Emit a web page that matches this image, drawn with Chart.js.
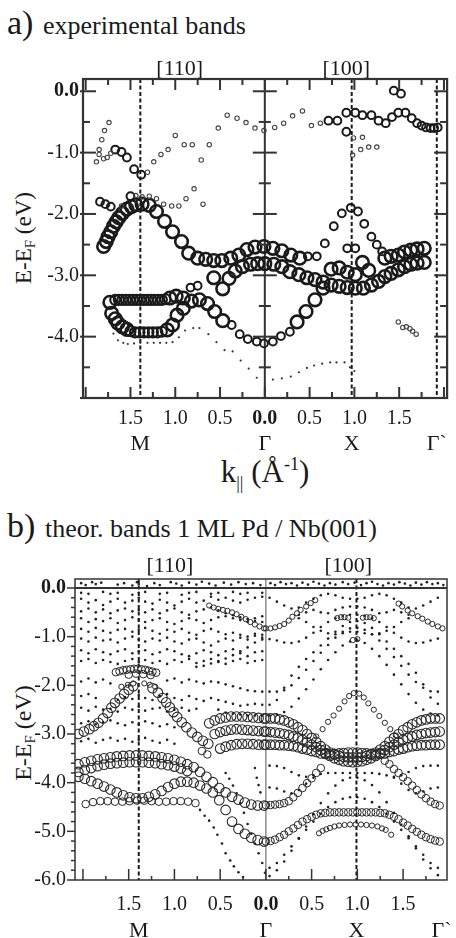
<!DOCTYPE html>
<html><head><meta charset="utf-8">
<script src="https://cdn.jsdelivr.net/npm/chart.js@4.4.1/dist/chart.umd.min.js"></script>
<style>
html,body{margin:0;padding:0;background:#fff;width:456px;height:938px;overflow:hidden;}
.t{position:absolute;font-family:'Liberation Serif','Times New Roman',serif;color:#1a1a1a;white-space:nowrap;line-height:normal;}
.box{position:absolute;left:0;width:456px;}
</style></head><body>
<div class="t" style="left:7px;top:4px;font-size:34px">a)</div>
<div class="t" style="left:43px;top:11px;font-size:26px">experimental bands</div>
<div class="t" style="left:25px;top:238px;font-size:23px;transform:translate(-50%,-50%) rotate(-90deg);">E-E<sub style="font-size:15px;vertical-align:-4px">F</sub> (eV)</div>
<div class="t" style="left:265px;top:454px;font-size:31px;transform:translateX(-50%);">k<sub style="font-size:18px;vertical-align:-7px">||</sub> (Å<sup style="font-size:18px;vertical-align:12px">-1</sup>)</div>
<div class="t" style="left:7px;top:507px;font-size:34px">b)</div>
<div class="t" style="left:45px;top:514px;font-size:26px">theor. bands 1 ML Pd / Nb(001)</div>
<div class="t" style="left:24px;top:733px;font-size:24px;transform:translate(-50%,-50%) rotate(-90deg);">E-E<sub style="font-size:15px;vertical-align:-4px">F</sub> (eV)</div>
<div class="box" style="top:0;height:458px"><canvas id="ca"></canvas></div>
<div class="box" style="top:540px;height:402px"><canvas id="cb"></canvas></div>
<script>
const SERIF = "'Liberation Serif','Times New Roman',serif";

// ===== shared labels =====
const kTickVals = [-1.5, -1.0, -0.5, 0, 0.5, 1.0, 1.5];
const symLabels = ['M', 'Γ', 'X', 'Γ`'];
const dirLabels = ['[110]', '[100]'];

// ===== panel a: experimental bands =====
const yTickValsA = [0, -1, -2, -3, -4];
const symKA = [-1.39, 0, 0.97, 1.92];
const dirKA = [-0.95, 0.91];
const aBig = [[-1.80,-2.53],[-1.77,-2.45],[-1.75,-2.37],[-1.72,-2.29],[-1.69,-2.20],[-1.66,-2.13],[-1.63,-2.06],[-1.59,-1.99],[-1.54,-1.92],[-1.49,-1.88],[-1.44,-1.85],[-1.37,-1.84],[-1.29,-1.86],[-1.21,-1.96],[-1.12,-2.12],[-1.03,-2.29],[-0.93,-2.45],[-0.85,-2.64],[-0.75,-2.72],[-0.66,-2.74],[-0.57,-2.76],[-0.48,-2.76],[-0.38,-2.72],[-0.29,-2.67],[-0.20,-2.58],[-0.11,-2.54],[-0.01,-2.53],
[0.09,-2.56],[0.19,-2.60],[0.29,-2.67],[0.39,-2.72],
[-0.57,-3.04],[-0.47,-3.22],[-0.40,-3.05],[-0.33,-2.93],[-0.25,-2.86],[-0.16,-2.82],[-0.08,-2.81],[0.00,-2.81],
[0.10,-2.82],[0.19,-2.86],[0.28,-2.94],[0.38,-2.99],[0.47,-3.04],[0.56,-3.07],[0.65,-3.11],[0.74,-3.16],[0.83,-3.18],[0.92,-3.20],[1.01,-3.21],[1.10,-3.21],[1.19,-3.16],[1.27,-3.10],[1.34,-3.02],[1.41,-2.97],[1.49,-2.91],[1.56,-2.86],[1.63,-2.82],[1.70,-2.80],[1.78,-2.79],
[0.74,-2.90],[0.83,-2.88],[0.92,-2.95],[1.01,-2.99],[1.09,-2.79],[1.16,-2.92],
[1.34,-2.72],[1.41,-2.69],[1.49,-2.67],[1.56,-2.62],[1.63,-2.59],[1.70,-2.57],[1.78,-2.56],
[0.36,-3.76],[0.46,-3.59],[0.56,-3.40],[0.65,-3.21],
[-1.73,-3.44],[-1.71,-3.62],[-1.67,-3.71],[-1.64,-3.78],[-1.59,-3.84],[-1.54,-3.88],[-1.09,-3.89],[-1.03,-3.81],[-0.98,-3.65],[-0.91,-3.54],[-0.82,-3.42],[-1.06,-3.37],[-0.99,-3.34],[-0.91,-3.37],[-0.73,-3.40],[-0.64,-3.46],[-0.56,-3.59],[-0.47,-3.74]];
const aMid = [[-1.67,-3.40],[-1.63,-3.40],[-1.59,-3.40],[-1.55,-3.40],[-1.51,-3.40],[-1.47,-3.40],[-1.43,-3.40],[-1.39,-3.40],[-1.35,-3.40],[-1.31,-3.40],[-1.27,-3.40],[-1.23,-3.40],[-1.19,-3.40],[-1.15,-3.40],[-1.11,-3.39],
[-1.50,-3.91],[-1.45,-3.93],[-1.40,-3.93],[-1.35,-3.93],[-1.30,-3.93],[-1.25,-3.93],[-1.20,-3.93],[-1.15,-3.92]];
const aMed = [[-1.67,-0.95],[-1.60,-0.99],[-1.54,-1.08],[-1.46,-1.27],[-1.38,-1.36],
[-1.84,-1.80],[-1.78,-1.84],[-1.72,-1.88],[-1.50,-1.71],
[0.71,-0.48],[0.81,-0.48],[0.91,-0.35],[1.01,-0.35],[1.09,-0.39],[1.19,-0.39],[1.27,-0.48],[1.35,-0.52],[1.42,-0.42],[1.49,-0.35],[1.57,-0.35],[1.64,-0.44],[1.70,-0.52],[1.75,-0.56],[1.80,-0.59],[1.85,-0.60],[1.89,-0.60],[1.93,-0.59],
[1.44,0.01],[1.52,-0.04],[0.91,-0.66],
[0.67,-2.48],[0.77,-2.20],[0.86,-1.99],[0.96,-1.90],[1.04,-1.96],[1.11,-2.16],[1.19,-2.37],[1.25,-2.50],[1.31,-2.61],[0.92,-2.56],[1.01,-2.56],
[-0.83,-3.20],[-0.75,-3.17],[0.48,-2.69],[0.58,-2.69],
[-0.37,-3.81],[-0.28,-3.96],[-0.19,-4.04],[-0.09,-4.08],[-0.01,-4.11],[0.09,-4.08],[0.18,-3.99],[0.28,-3.92]];
const aSmall = [[-1.88,-1.15],[-1.85,-0.95],[-1.85,-1.03],[-1.82,-0.79],[-1.80,-1.10],[-1.79,-0.64],[-1.76,-1.08],[-1.74,-0.51],[-1.72,-1.01],
[-1.31,-1.32],[-1.24,-1.15],[-1.16,-1.03],[-1.08,-0.95],[-1.00,-0.72],[-0.90,-0.87],[-0.81,-0.87],[-0.71,-1.12],[-0.62,-0.87],[-0.52,-0.60],[-0.42,-0.39],[-0.31,-0.44],[-0.21,-0.51],[-0.11,-0.60],[-0.01,-0.64],
[0.11,-0.59],[0.21,-0.52],[0.31,-0.40],[0.42,-0.32],[0.52,-0.56],[0.62,-0.52],
[-1.60,-1.87],[-1.44,-1.70],[-1.37,-1.72],[-1.29,-1.71],[-1.21,-1.75],[-1.13,-1.84],[-1.04,-1.87],[-0.96,-1.87],[-0.88,-1.75],[-0.79,-1.59],[-0.69,-1.84],
[0.99,-0.76],[1.09,-0.75],[0.98,-1.04],[1.07,-0.95],[1.16,-0.91],[1.25,-0.91],
[1.49,-3.76],[1.54,-3.85],[1.58,-3.84],[1.62,-3.87],[1.65,-3.91],[1.69,-3.96]];
const aDot = [[-1.69,-3.95],[-1.64,-4.06],[-1.58,-4.10],[-1.53,-4.12],[-1.46,-4.11],[-1.39,-4.10],[-1.31,-4.10],[-1.24,-4.10],[-1.17,-4.10],[-1.10,-4.10],[-1.03,-4.09],[-0.96,-4.01],[-0.89,-3.90],[-0.80,-3.86],[-0.73,-3.86],[-0.63,-3.96],[-0.54,-4.09],[-0.45,-4.22],[-0.36,-4.24],[-0.27,-4.39],[-0.18,-4.52],[-0.09,-4.67],
[0.09,-4.70],[0.19,-4.68],[0.29,-4.65],[0.38,-4.58],[0.47,-4.51],[0.55,-4.47],[0.64,-4.44],[0.73,-4.42],[0.80,-4.42],[0.89,-4.42],[0.95,-4.50],[1.00,-4.56]];

// ===== panel b: theoretical bands =====
const yTickValsB = [0, -1, -2, -3, -4, -5, -6];
const symKB = [-1.39, 0, 0.99, 1.92];
const dirKB = [-1.05, 0.90];
const kGrid110 = [-2.02,-1.94,-1.86,-1.78,-1.70,-1.62,-1.54,-1.46,-1.39,-1.32,-1.24,-1.16,-1.08,-1.00,-0.92,-0.84,-0.76,-0.68,-0.60,-0.52,-0.44,-0.36,-0.28,-0.20,-0.12,-0.04];
const b110f0 = [-0.10,-0.12,null,-0.08,-0.12,-0.10,null,-0.14,-0.10,-0.08,null,-0.12,-0.10,null,-0.14,-0.10,-0.08,null,-0.12,-0.10,null,-0.08,-0.12,-0.10,null,-0.10];
const b110f1 = [-0.22,-0.30,-0.25,-0.35,-0.28,-0.22,-0.30,-0.26,-0.20,-0.28,-0.32,-0.24,-0.30,-0.36,-0.28,-0.22,-0.30,-0.26,-0.18,-0.24,-0.20,-0.26,-0.30,-0.24,-0.20,-0.18];
const b110f2 = [-0.48,-0.42,-0.50,-0.44,-0.52,-0.46,-0.42,-0.48,-0.45,-0.50,-0.44,-0.52,-0.46,-0.42,-0.50,-0.55,-0.48,-0.44,-0.40,-0.46,-0.52,-0.56,-0.60,-0.64,-0.68,-0.70];
const b110f3 = [-0.62,-0.70,-0.64,-0.68,-0.62,-0.72,-0.66,-0.60,-0.65,-0.70,-0.66,-0.62,-0.70,-0.74,-0.68,-0.62,-0.66,-0.72,-0.66,-0.60,-0.58,-0.62,-0.66,-0.70,-0.62,-0.58];
const b110f4 = [-0.84,-0.90,-0.82,-0.88,-0.92,-0.86,-0.84,-0.90,-0.86,-0.82,-0.88,-0.94,-0.86,-0.90,-0.84,-0.92,-0.96,-0.88,-0.84,-0.90,-0.95,-0.92,-0.96,-1.00,-0.94,-0.96];
const b110f5 = [-1.04,-1.10,-1.02,-1.08,-1.06,-1.12,-1.04,-1.00,-1.06,-1.10,-1.04,-1.08,-1.02,-1.10,-1.14,-1.06,-1.04,-1.12,-1.18,-1.10,-1.04,-1.08,-1.02,-1.06,-0.98,-1.02];
const b110f6 = [-1.28,-1.34,-1.26,-1.32,-1.36,-1.30,-1.26,-1.34,-1.30,-1.28,-1.36,-1.32,-1.26,-1.30,-1.36,-1.40,-1.34,-1.28,-1.32,-1.38,-1.30,-1.26,-1.34,-1.40,-1.32,-1.30];
const b110f7 = [-1.50,-1.46,-1.54,-1.48,-1.52,-1.56,-1.50,-1.46,-1.52,-1.48,-1.54,-1.50,-1.56,-1.48,-1.52,-1.46,-1.54,-1.50,-1.46,-1.52,-1.56,-1.50,-1.46,-1.54,-1.50,-1.48];
const b110e1 = [null,null,null,null,null,null,null,null,null,null,null,null,null,null,null,null,-1.62,-1.60,-1.55,-1.50,-1.45,-1.38,-1.30,-1.22,-1.12,-1.06];
const b110f8 = [-1.92,-1.86,-1.94,-1.88,-1.96,null,null,null,null,null,null,null,-1.90,-1.86,-1.94,-1.88,-1.92,-1.96,-1.92,-1.94,-1.98,-2.02,-2.06,-2.10,-2.12,-2.13];
const b110f9 = [-2.22,-2.18,-2.26,null,null,-2.30,-2.24,-2.28,-2.20,-2.26,-2.30,-2.22,-2.18,-2.26,-2.30,-2.22,-2.28,-2.32,-2.26,-2.30,-2.34,-2.38,-2.42,-2.40,-2.38,-2.40];
const b110f10 = [-2.46,-2.52,-2.44,-2.50,-2.48,-2.54,-2.46,-2.50,-2.44,-2.52,-2.48,-2.46,-2.54,-2.50,-2.46,-2.52,-2.48,null,null,-2.50,-2.56,-2.58,-2.60,-2.62,-2.62,-2.62];
const b110f11 = [-2.78,-2.74,-2.80,-2.76,-2.72,-2.78,-2.82,-2.76,-2.80,-2.74,-2.78,-2.84,-2.80,-2.86,null,null,null,null,null,null,null,null,null,null,null,null];
const b110f12 = [-3.15,-3.10,-3.18,-3.12,-3.08,-3.14,-3.10,-3.16,-3.12,-3.08,-3.14,-3.18,-3.12,-3.20,null,null,null,null,null,null,null,null,null,null,null,null];
const kGrid100 = [0.04,0.12,0.20,0.28,0.36,0.44,0.52,0.60,0.68,0.76,0.84,0.92,1.00,1.08,1.16,1.24,1.32,1.40,1.48,1.56,1.64,1.72,1.80,1.88];
const b100dL = [-0.20,-0.28,-0.36,-0.42,-0.40,-0.30,-0.22,-0.15,-0.12,-0.15,-0.20,-0.22,-0.22,-0.20,-0.15,-0.12,-0.15,-0.22,-0.30,-0.40,-0.42,-0.36,-0.28,-0.20];
const b100dN = [null,null,null,null,-0.55,-0.50,-0.45,-0.50,-0.52,-0.45,-0.40,-0.38,-0.38,-0.40,-0.45,-0.52,-0.50,-0.45,-0.50,-0.55,null,null,null,null];
const b100dA = [-1.05,-1.08,-1.12,-1.13,-1.10,-1.02,-0.92,-0.80,-0.70,-0.62,-0.57,-0.55,-0.55,-0.57,-0.62,-0.70,-0.80,-0.92,-1.02,-1.10,-1.13,-1.12,-1.08,-1.04];
const b100dM = [null,null,null,null,-0.62,-0.70,-0.80,-0.88,-0.93,-0.95,-0.93,-0.90,-0.90,-0.93,-0.95,-0.93,-0.88,-0.80,-0.70,-0.62,null,null,null,null];
const b100dJ = [-2.40,-2.30,-2.05,-1.80,-1.62,-1.46,-1.32,-1.18,-1.04,-0.90,-0.78,-0.70,-0.68,-0.72,-0.82,-0.95,-1.10,-1.25,-1.40,-1.56,-1.74,-1.98,-2.25,-2.38];
const b100dB = [-2.13,-2.13,-2.10,-2.00,-1.85,-1.68,-1.50,-1.33,-1.17,-1.02,-0.90,-0.83,-0.82,-0.86,-0.95,-1.08,-1.25,-1.42,-1.60,-1.78,-1.93,-2.05,-2.12,-2.13];
const b100dC = [-2.62,-2.60,-2.55,-2.44,-2.27,-2.08,-1.88,-1.67,-1.48,-1.32,-1.18,-1.10,-1.08,-1.13,-1.25,-1.40,-1.58,-1.78,-1.98,-2.18,-2.36,-2.50,-2.58,-2.62];
const b100dD = [-3.65,-3.66,-3.70,-3.78,-3.85,-3.88,-3.85,-3.82,-3.80,-3.80,-3.80,-3.80,-3.80,-3.80,-3.80,-3.82,-3.85,-3.88,-3.85,-3.78,-3.70,-3.66,-3.65,-3.65];
const b100dH = [-4.10,-4.12,-4.18,-4.22,-4.15,-4.02,-3.90,null,null,null,null,null,null,null,null,null,null,-3.90,-4.02,-4.15,-4.22,-4.18,-4.12,-4.10];
const b100dF = [-5.92,-5.80,-5.62,-5.40,-5.15,-4.90,-4.65,-4.42,-4.22,-4.06,-3.95,-3.90,-3.90,-3.95,-4.05,-4.20,-4.40,-4.62,-4.86,-5.10,-5.35,-5.58,-5.76,-5.90];
const b100dG = [-5.75,-5.65,-5.48,-5.31,-5.14,-4.97,-4.80,-4.64,-4.50,-4.40,-4.33,-4.30,-4.30,-4.33,-4.40,-4.50,-4.64,-4.80,-4.97,-5.14,-5.31,-5.48,-5.65,-5.75];
const bStripDots = [[-2.02,0.10],[-1.97,0.06],[-1.90,0.12],[-1.86,0.08],[-1.80,0.11],[-1.62,0.07],[-1.55,0.10],[-1.46,0.05],[-1.41,0.12],[-1.39,0.08],[-1.30,0.04],[-1.22,0.10],[-1.16,0.06],[-1.04,0.12],[-0.98,0.09],[-0.92,0.05],[-0.84,0.11],[-0.76,0.07],[-0.70,0.13],[-0.62,0.09],[-0.55,0.05],[-0.46,0.11],[-0.38,0.07],[-0.30,0.12],[-0.22,0.08],[-0.14,0.10],[-0.06,0.06],[0.05,0.10],[0.10,0.06],[0.16,0.12],[0.22,0.08],[0.28,0.10],[0.34,0.05],[0.40,0.11],[0.46,0.07],[0.52,0.13],[0.58,0.09],[0.64,0.05],[0.70,0.10],[0.76,0.07],[0.84,0.12],[0.90,0.08],[0.97,0.11],[1.04,0.06],[1.10,0.10],[1.16,0.13],[1.22,0.08],[1.28,0.05],[1.34,0.10],[1.40,0.07],[1.46,0.12],[1.52,0.09],[1.58,0.05],[1.64,0.11],[1.70,0.07],[1.76,0.12],[1.82,0.08],[1.88,0.10],[1.94,0.06]];
const bLowDots110 = [[-0.72,-4.56],[-0.67,-4.68],[-0.62,-4.78],[-0.57,-4.92],[-0.53,-5.07],[-0.48,-5.25],[-0.44,-5.45],[-0.39,-5.60],[-0.35,-5.72],[-0.30,-5.84],[-0.25,-5.94],
[-0.44,-3.80],[-0.40,-3.92],[-0.36,-4.06],[-0.32,-4.22],[-0.28,-4.42],[-0.24,-4.62],[-0.20,-4.85],[-0.16,-5.05],[-0.12,-5.25],[-0.08,-5.45],[-0.04,-5.65],[-0.01,-5.85],
[-0.12,-3.70],[-0.10,-3.90],[-0.08,-4.05],[-0.06,-4.20]];
const kFine100 = [0.00,0.05,0.10,0.15,0.20,0.25,0.30,0.35,0.40,0.45,0.50,0.55,0.60,0.65,0.70,0.75,0.80,0.85,0.90,0.95,1.00,1.05,1.10,1.15,1.20,1.25,1.30,1.35,1.40,1.45,1.50,1.55,1.60,1.65,1.70,1.75,1.80,1.85,1.90];
const b100C1 = [-2.68,-2.68,-2.68,-2.70,-2.72,-2.76,-2.80,-2.86,-2.92,-3.00,-3.08,-3.16,-3.25,-3.32,-3.38,-3.42,-3.45,-3.47,-3.48,-3.48,-3.48,-3.47,-3.45,-3.42,-3.38,-3.32,-3.25,-3.16,-3.08,-3.00,-2.92,-2.86,-2.80,-2.76,-2.72,-2.70,-2.68,-2.68,-2.68];
const b100C2 = [-2.95,-2.96,-2.97,-2.98,-3.00,-3.02,-3.05,-3.08,-3.12,-3.17,-3.22,-3.27,-3.33,-3.39,-3.45,-3.50,-3.53,-3.56,-3.57,-3.58,-3.57,-3.56,-3.53,-3.50,-3.45,-3.39,-3.33,-3.27,-3.22,-3.17,-3.12,-3.08,-3.05,-3.02,-3.00,-2.98,-2.97,-2.96,-2.95];
const b100C3 = [-3.22,-3.22,-3.22,-3.23,-3.23,-3.24,-3.25,-3.27,-3.30,-3.32,-3.35,-3.37,-3.40,-3.41,-3.42,-3.41,-3.40,-3.39,-3.38,-3.38,-3.38,-3.39,-3.40,-3.41,-3.42,-3.41,-3.40,-3.37,-3.35,-3.32,-3.30,-3.27,-3.25,-3.24,-3.23,-3.23,-3.22,-3.22,-3.22];
const b100G1 = [-5.21,-5.20,-5.17,-5.12,-5.07,-5.00,-4.94,-4.87,-4.80,-4.75,-4.70,-4.66,-4.63,-4.62,-4.61,-4.61,-4.61,-4.61,-4.61,-4.61,-4.61,-4.61,-4.61,-4.61,-4.61,-4.62,-4.63,-4.66,-4.70,-4.75,-4.82,-4.88,-4.95,-5.01,-5.07,-5.12,-5.16,-5.19,-5.21];
const b100G3 = [-4.46,-4.46,-4.45,-4.44,-4.42,-4.38,-4.30,-4.21,-4.11,-4.01,-3.91,-3.80,-3.70,null,null,null,null,null,null,null,null,null,null,null,null,null,-3.55,-3.62,-3.72,-3.80,-3.89,-3.97,-4.06,-4.15,-4.24,-4.32,-4.39,-4.44,-4.47];
const bG2 = [[0.58,-5.04],[0.62,-4.99],[0.66,-4.96],[0.70,-4.93],[0.75,-4.90],[0.80,-4.88],[0.86,-4.87],[0.92,-4.86],[0.98,-4.86],[1.04,-4.86],[1.10,-4.87],[1.16,-4.88],[1.22,-4.90],[1.27,-4.94],[1.31,-4.97],[1.37,-5.07]];
const bXPeak = [[0.55,-3.05],[0.62,-2.90],[0.68,-2.75],[0.74,-2.62],[0.80,-2.48],[0.86,-2.33],[0.91,-2.22],[0.96,-2.16],[1.02,-2.17],[1.07,-2.25],[1.12,-2.37],[1.18,-2.50],[1.24,-2.63],[1.30,-2.77],[1.36,-2.90],[1.42,-3.03]];
const bTopCircles = [[0.00,-0.83],[0.05,-0.83],[0.10,-0.81],[0.15,-0.78],[0.20,-0.74],[0.25,-0.67],[0.29,-0.59],[0.34,-0.52],[0.38,-0.45],[0.44,-0.38],[0.49,-0.31],[0.54,-0.25],[1.45,-0.32],[1.49,-0.38],[1.55,-0.46],[1.60,-0.52],[1.66,-0.58],[1.71,-0.63],[1.77,-0.69],[1.82,-0.74],[1.88,-0.79],[1.93,-0.83],
[0.78,-0.62],[0.82,-0.60],[0.86,-0.60],[0.90,-0.61],[1.06,-0.61],[1.10,-0.60],[1.14,-0.60],[1.18,-0.62],[0.95,-1.07],[1.00,-1.05],
[-0.62,-0.36],[-0.57,-0.40],[-0.52,-0.43],[-0.47,-0.45],[-0.42,-0.47],[-0.37,-0.50],[-0.32,-0.54],[-0.27,-0.59],[-0.22,-0.64],[-0.17,-0.70],[-0.12,-0.75],[-0.07,-0.79],[-0.02,-0.83],
[-1.58,-2.03],[-1.51,-1.99],[-1.45,-1.96],[-1.33,-1.96],[-1.27,-1.99],[-1.21,-2.03]];
const kGrid110b = [-2.05,-1.98,-1.91,-1.84,-1.77,-1.70,-1.63,-1.56,-1.49,-1.42,-1.35,-1.28,-1.21,-1.14,-1.07,-1.00,-0.93,-0.86,-0.79,-0.72,-0.65,-0.58,-0.51,-0.44,-0.37,-0.30,-0.23,-0.16,-0.09,-0.02];
const b110H1 = [-3.62,-3.58,-3.55,-3.52,-3.50,-3.48,-3.46,-3.45,-3.44,-3.44,-3.44,-3.45,-3.46,-3.48,-3.50,-3.53,-3.57,-3.62,-3.68,-3.78,-3.88,-3.99,-4.11,-4.20,-4.29,-4.35,-4.41,-4.45,-4.47,-4.47];
const b110H2 = [-3.78,-3.74,-3.70,-3.66,-3.63,-3.61,-3.60,-3.59,-3.58,-3.58,-3.58,-3.59,-3.60,-3.62,-3.64,-3.67,-3.71,-3.76,null,null,null,null,null,null,null,null,null,null,null,null];
const b110H4 = [-3.88,-3.92,-3.97,-4.02,-4.08,-4.14,-4.20,-4.26,-4.30,-4.32,-4.32,-4.29,-4.24,-4.17,-4.09,-4.02,-3.98,-3.98,-4.00,-4.06,-4.12,-4.20,-4.36,-4.56,-4.80,-4.95,-5.05,-5.13,-5.18,-5.21];
const bH5 = [[-1.97,-4.44],[-1.89,-4.40],[-1.81,-4.38],[-1.73,-4.38],[-1.65,-4.39],[-1.57,-4.39],[-1.49,-4.38],[-1.41,-4.37],[-1.33,-4.37],[-1.25,-4.38],[-1.17,-4.39],[-1.09,-4.39],[-1.01,-4.38],[-0.93,-4.38],[-0.85,-4.39],[-0.77,-4.42]];
const bB1 = [[-2.05,-3.00],[-1.99,-2.95],[-1.93,-2.90],[-1.88,-2.84],[-1.83,-2.77],[-1.78,-2.68],[-1.73,-2.57],[-1.69,-2.46],[-1.65,-2.36],[-1.60,-2.27],[-1.55,-2.18],[-1.50,-2.09],[-1.45,-2.02],
[-1.24,-2.06],[-1.18,-2.15],[-1.13,-2.26],[-1.09,-2.35],[-1.05,-2.45],[-1.01,-2.55],[-0.97,-2.65],[-0.92,-2.76],[-0.87,-2.86],[-0.81,-2.97],[-0.75,-3.06],[-0.69,-3.14],[-0.63,-3.20],
[-0.62,-2.78],[-0.56,-2.72],[-0.50,-2.68],[-0.44,-2.66],[-0.38,-2.64],[-0.32,-2.64],[-0.26,-2.64],[-0.20,-2.65],[-0.14,-2.66],[-0.08,-2.67],[-0.02,-2.68],
[-0.56,-3.00],[-0.50,-2.96],[-0.44,-2.93],[-0.38,-2.91],[-0.32,-2.90],[-0.26,-2.91],[-0.20,-2.92],[-0.14,-2.93],[-0.08,-2.94],[-0.02,-2.95],
[-0.50,-3.30],[-0.44,-3.26],[-0.38,-3.23],[-0.32,-3.21],[-0.26,-3.20],[-0.20,-3.20],[-0.14,-3.21],[-0.08,-3.22],[-0.02,-3.22]];
const bMCluster = [[-1.64,-1.73],[-1.60,-1.71],[-1.56,-1.69],[-1.52,-1.68],[-1.48,-1.67],[-1.44,-1.66],[-1.40,-1.66],[-1.36,-1.67],[-1.32,-1.68],[-1.28,-1.70],[-1.24,-1.72],[-1.20,-1.74],[-1.50,-1.78],[-1.42,-1.76],[-1.34,-1.77],[-1.26,-1.79],[-0.70,-3.35],[-0.64,-3.42]];

// ===== helpers =====
const pairs = arr => arr.map(p => ({x: p[0], y: p[1]}));
const zip = (ks, es) => ks.map((k, i) => es[i] == null ? null : {x: k, y: es[i]}).filter(Boolean);
function ds(points, r, lw, color, filled) {
  return {data: points, showLine: false, pointRadius: r, pointHoverRadius: r,
    pointBorderWidth: lw, pointBorderColor: color,
    pointBackgroundColor: filled ? color : 'rgba(0,0,0,0)'};
}

const framePlugin = {
  id: 'frame',
  beforeDatasetsDraw(chart, args, o) {
    const {ctx, chartArea: a} = chart; const x = chart.scales.x, y = chart.scales.y;
    ctx.save();
    ctx.beginPath(); ctx.rect(a.left, a.top, a.right - a.left, a.bottom - a.top); ctx.clip();
    ctx.strokeStyle = o.solidColor; ctx.lineWidth = o.solidW; ctx.setLineDash([]);
    o.solidK.forEach(k => { const p = x.getPixelForValue(k); ctx.beginPath(); ctx.moveTo(p, a.top); ctx.lineTo(p, a.bottom); ctx.stroke(); });
    ctx.strokeStyle = o.dashColor; ctx.lineWidth = o.dashW; ctx.setLineDash(o.dash);
    o.dashK.forEach(k => { const p = x.getPixelForValue(k); ctx.beginPath(); ctx.moveTo(p, a.top); ctx.lineTo(p, a.bottom); ctx.stroke(); });
    ctx.setLineDash([]);
    if (o.zeroLine) { const p = y.getPixelForValue(0); ctx.strokeStyle = o.frameColor; ctx.lineWidth = o.zeroW; ctx.beginPath(); ctx.moveTo(a.left, p); ctx.lineTo(a.right, p); ctx.stroke(); }
    ctx.restore();
  },
  afterDatasetsDraw(chart, args, o) {
    const {ctx, chartArea: a} = chart; const x = chart.scales.x, y = chart.scales.y;
    ctx.save();
    ctx.strokeStyle = o.frameColor; ctx.lineWidth = o.frameW; ctx.setLineDash([]);
    ctx.strokeRect(a.left, a.top, a.right - a.left, a.bottom - a.top);
    ctx.lineWidth = o.tickW;
    const seg = (x1, y1, x2, y2) => { ctx.beginPath(); ctx.moveTo(x1, y1); ctx.lineTo(x2, y2); ctx.stroke(); };
    for (let i = -8; i <= 8; i++) {
      const v = i * 0.25; if (v < x.min || v > x.max) continue;
      const p = x.getPixelForValue(v); const L = (i % 2 === 0) ? o.xMaj : o.xMin;
      if (o.xBottom) seg(p, a.bottom, p, a.bottom - L);
      if (o.xTop) seg(p, a.top, p, a.top + L);
    }
    const n = Math.round(-y.min / o.yStep);
    for (let i = 0; i <= n; i++) {
      const p = y.getPixelForValue(-i * o.yStep); const major = (i % o.yMajEvery === 0);
      const Lin = major ? o.yInMaj : o.yInMin, Lout = major ? o.yOutMaj : o.yOutMin;
      seg(a.left - Lout, p, a.left + Lin, p);
      if (o.yRight) seg(a.right - Lin, p, a.right, p);
      if (o.yGamma) { const g = x.getPixelForValue(0); const Lg = major ? o.gMaj : o.gMin; seg(g - Lg, p, g + Lg, p); }
    }
    ctx.restore();
  }
};

function scalesFor(g) {
  const common = {type: 'linear', min: g.xMin, max: g.xMax, grid: {display: false, drawTicks: false}, border: {display: false}};
  const fitH = h => s => { s.height = h; s.paddingLeft = 0; s.paddingRight = 0; };
  return {
    x: Object.assign({}, common, {position: 'bottom', weight: 0,
      afterBuildTicks: s => { s.ticks = kTickVals.map(v => ({value: v})); },
      ticks: {autoSkip: false, maxRotation: 0, minRotation: 0, padding: g.xPad, color: '#1a1a1a',
        font: c => ({family: SERIF, size: g.xFont, weight: (c.tick && c.tick.value === 0) ? 'bold' : 'normal'}),
        callback: v => Math.abs(v).toFixed(1)},
      afterFit: fitH(g.xH)}),
    xs: Object.assign({}, common, {position: 'bottom', weight: 1,
      afterBuildTicks: s => { s.ticks = g.symK.map(v => ({value: v})); },
      ticks: {autoSkip: false, maxRotation: 0, minRotation: 0, padding: g.sPad, color: '#1a1a1a',
        font: {family: SERIF, size: g.sFont}, callback: (v, i) => symLabels[i]},
      afterFit: fitH(g.sH)}),
    xd: Object.assign({}, common, {position: 'top',
      afterBuildTicks: s => { s.ticks = g.dirK.map(v => ({value: v})); },
      ticks: {autoSkip: false, maxRotation: 0, minRotation: 0, padding: g.dPad, color: '#1a1a1a',
        font: {family: SERIF, size: g.dFont}, callback: (v, i) => dirLabels[i]},
      afterFit: fitH(g.dH)}),
    y: {type: 'linear', position: 'left', min: g.yMin, max: g.yMax, grid: {display: false, drawTicks: false}, border: {display: false},
      afterBuildTicks: s => { s.ticks = g.yTicks.map(v => ({value: v})); },
      ticks: {padding: g.yPad, color: '#1a1a1a',
        font: c => ({family: SERIF, size: g.yFont, weight: (c.tick && c.tick.value === 0) ? 'bold' : 'normal'}),
        callback: v => v.toFixed(1)},
      afterFit: s => { s.width = g.yW; s.paddingTop = 0; s.paddingBottom = 0; }}
  };
}

// ===== chart a =====
new Chart(document.getElementById('ca'), {
  type: 'scatter',
  data: {datasets: [
    ds(pairs(aDot), 1.1, 0, '#333', true),
    ds(pairs(aSmall), 2.2, 1.1, '#444', false),
    ds(pairs(aMed), 3.9, 2.0, '#1a1a1a', false),
    ds(pairs(aMid), 5.0, 2.2, '#1a1a1a', false),
    ds(pairs(aBig), 6.3, 2.6, '#1a1a1a', false)
  ]},
  options: {
    responsive: true, maintainAspectRatio: false, animation: false, events: [],
    layout: {padding: {left: 0, right: 2, top: 0, bottom: 0}},
    plugins: {legend: {display: false}, tooltip: {enabled: false},
      frame: {frameColor: '#333', frameW: 2.2, tickW: 2, solidK: [0], solidW: 2, solidColor: '#333',
        dashK: [-1.39, 0.97, 1.92], dashW: 2, dashColor: '#1a1a1a', dash: [4, 2.5], zeroLine: false, zeroW: 0,
        xTop: true, xBottom: true, xMaj: 11, xMin: 6, yStep: 0.5, yMajEvery: 2,
        yInMaj: 13, yInMin: 7, yOutMaj: 3, yOutMin: 0, yRight: true, yGamma: true, gMaj: 12, gMin: 6}},
    scales: scalesFor({xMin: -2.03, xMax: 2.035, yMin: -5.0, yMax: 0.2, yTicks: yTickValsA, symK: symKA, dirK: dirKA,
      xPad: 9, xFont: 20, xH: 30, sPad: 3, sFont: 22, sH: 30, dPad: -3, dFont: 22, dH: 79, yPad: 4, yFont: 20, yW: 83})
  },
  plugins: [framePlugin]
});

// ===== chart b =====
const dot110 = [b110f0, b110f1, b110f2, b110f3, b110f4, b110f5, b110f6, b110f7, b110e1, b110f8, b110f9, b110f10, b110f11, b110f12].flatMap(b => zip(kGrid110, b));
const dot100 = [b100dL, b100dN, b100dA, b100dM, b100dJ, b100dB, b100dC, b100dD, b100dH, b100dF, b100dG].flatMap(b => zip(kGrid100, b));
new Chart(document.getElementById('cb'), {
  type: 'scatter',
  data: {datasets: [
    ds(dot110.concat(dot100, pairs(bStripDots), pairs(bLowDots110)), 1.3, 0, '#222', true),
    ds(pairs(bG2).concat(pairs(bXPeak), pairs(bTopCircles)), 2.6, 1, '#2a2a2a', false),
    ds(zip(kFine100, b100G1).concat(zip(kFine100, b100G3), pairs(bH5), pairs(bMCluster)), 3.8, 1, '#2a2a2a', false),
    ds(zip(kFine100, b100C1).concat(zip(kFine100, b100C2), zip(kFine100, b100C3), zip(kGrid110b, b110H1), zip(kGrid110b, b110H2), zip(kGrid110b, b110H4), pairs(bB1)), 4.8, 1.1, '#2a2a2a', false)
  ]},
  options: {
    responsive: true, maintainAspectRatio: false, animation: false, events: [],
    layout: {padding: {left: 0, right: 9, top: 0, bottom: 0}},
    plugins: {legend: {display: false}, tooltip: {enabled: false},
      frame: {frameColor: '#333', frameW: 1.5, tickW: 1.5, solidK: [0], solidW: 1, solidColor: '#555',
        dashK: [-1.39, 0.99], dashW: 2, dashColor: '#1a1a1a', dash: [4, 2.5], zeroLine: true, zeroW: 2,
        xTop: false, xBottom: true, xMaj: 11, xMin: 4, yStep: 0.2, yMajEvery: 5,
        yInMaj: 0, yInMin: 0, yOutMaj: 8, yOutMin: 4, yRight: false, yGamma: false, gMaj: 0, gMin: 0}},
    scales: scalesFor({xMin: -2.087, xMax: 1.98, yMin: -6.0, yMax: 0.185, yTicks: yTickValsB, symK: symKB, dirK: dirKB,
      xPad: 13, xFont: 20, xH: 35, sPad: 3, sFont: 22, sH: 27, dPad: 0, dFont: 22, dH: 39, yPad: 9, yFont: 20, yW: 75})
  },
  plugins: [framePlugin]
});
</script>
</body></html>
